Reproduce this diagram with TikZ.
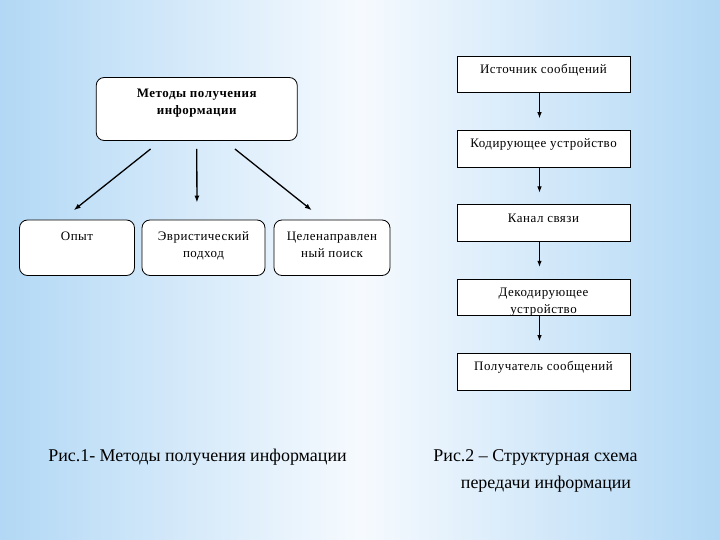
\documentclass[tikz,border=0pt]{standalone}
\usepackage{fontspec}
\setmainfont{Liberation Serif}
\newfontfamily\serifru{Liberation Serif}
\newfontfamily\boxru[LetterSpace=4]{Liberation Serif}
\usetikzlibrary{arrows.meta,positioning,fadings}
\definecolor{bgblue}{RGB}{178,216,245}
\definecolor{bglight}{RGB}{246,250,254}
\tikzfading[name=band,top color=transparent!100,middle color=transparent!25,bottom color=transparent!100]
\begin{document}
\begin{tikzpicture}[x=1bp,y=-1bp,
  rbox/.style={draw,fill=white,rounded corners=8bp,line width=0.8bp,minimum height=55.5bp},
  intxt/.style={anchor=north,inner sep=0pt,align=center,font=\boxru\fontsize{13}{17}\selectfont},
  sbox/.style={draw,fill=white,line width=0.8bp,minimum width=173bp,minimum height=36.5bp,inner sep=2bp,
    align=center,font=\boxru\fontsize{13}{17}\selectfont},
  oneline/.style={text height=9bp,text depth=11bp},
  bigarr/.style={-{Latex[length=7bp,width=5bp]},line width=1.3bp},
  smallarr/.style={-{Latex[length=6bp,width=4.5bp]},line width=0.8bp},
  captxt/.style={inner sep=0pt,font=\serifru\fontsize{18}{28}\selectfont}]
\useasboundingbox (0,0) rectangle (720,540);
\shade[left color=bgblue,right color=bgblue,middle color=bglight] (0,0) rectangle (720,540);
\fill[bgblue,path fading=band] (0,380) rectangle (720,455);

\node[rbox,minimum width=201bp,minimum height=63bp,
  label={[intxt,yshift=-12bp,font=\boxru\fontsize{13}{17}\selectfont\bfseries]north:{Методы получения\\информации}}] (meth) at (196.75,109) {};
\node[rbox,minimum width=115bp,label={[intxt,yshift=-12bp]north:Опыт}] (opyt) at (77,247.75) {};
\node[rbox,minimum width=123bp,label={[intxt,yshift=-12bp]north:{Эвристический\\подход}}] (eur) at (203.5,247.75) {};
\node[rbox,minimum width=116bp,label={[intxt,yshift=-12bp]north:{Целенаправлен\\ный поиск}}] (goal) at (332,247.75) {};

\draw[bigarr,shorten <=13bp,shorten >=15bp] ([xshift=-36bp]meth.south) -- ([xshift=-15bp]opyt.north);
\draw[bigarr,shorten <=8bp,shorten >=17bp] (meth.south) -- ([xshift=-6.5bp]eur.north);
\draw[bigarr,shorten <=13bp,shorten >=15bp] ([xshift=28bp]meth.south) -- ([xshift=-8.5bp]goal.north);

\node[sbox,oneline] (src) at (543.5,74.5) {Источник сообщений};
\node[sbox,oneline,below=37bp of src] (enc) {Кодирующее устройство};
\node[sbox,oneline,below=37bp of enc] (chan) {Канал связи};
\node[sbox,below=37bp of chan,inner ysep=0pt,text height=34bp,text depth=2bp] (dec) {Декодирующее\\устройство};
\node[sbox,oneline,below=37bp of dec] (recv) {Получатель сообщений};

\draw[smallarr,shorten >=12bp] ([xshift=-4bp]src.south) -- ([xshift=-4bp]enc.north);
\draw[smallarr,shorten >=12bp] ([xshift=-4bp]enc.south) -- ([xshift=-4bp]chan.north);
\draw[smallarr,shorten >=12bp] ([xshift=-4bp]chan.south) -- ([xshift=-4bp]dec.north);
\draw[smallarr,shorten >=12bp] ([xshift=-4bp]dec.south) -- ([xshift=-4bp]recv.north);

\node[captxt] (cap1) at (197.5,457) {Рис.1- Методы получения информации};
\node[captxt] (cap2) at (535.5,457) {Рис.2 – Структурная схема};
\node[captxt] (cap3) at (546,484.5) {передачи информации};
\end{tikzpicture}
\end{document}
